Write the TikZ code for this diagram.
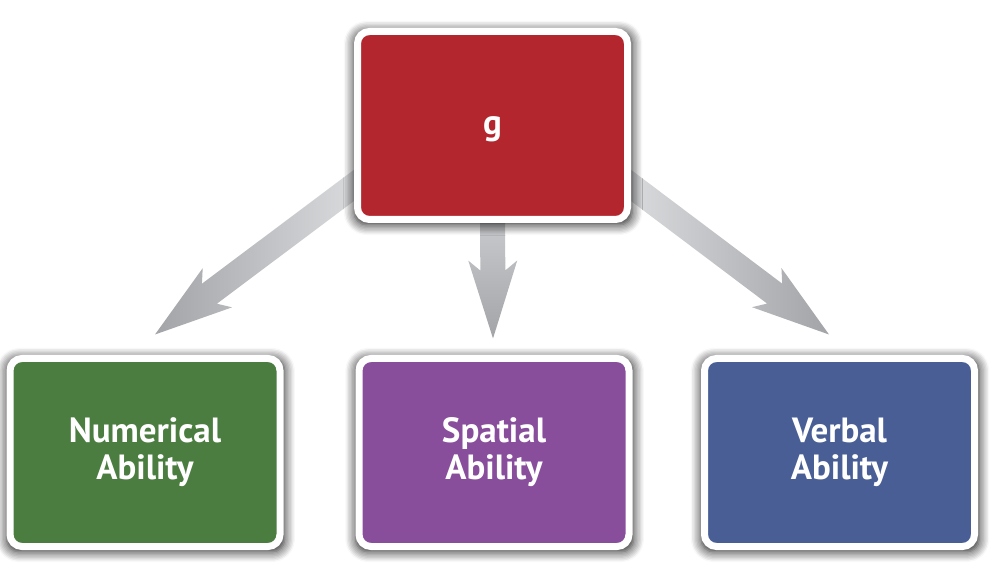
\documentclass[tikz,border=0pt]{standalone}
\usepackage{fontspec}
\setmainfont{PT Sans}
\usetikzlibrary{calc,shadows.blur}
\pgfdeclarelayer{bg}
\pgfsetlayers{bg,main}
\definecolor{gred}{HTML}{B3262E}
\definecolor{ngreen}{HTML}{4B7C40}
\definecolor{spurple}{HTML}{884E9B}
\definecolor{vblue}{HTML}{485E95}
\definecolor{arrlight}{HTML}{E2E3E5}
\definecolor{arrdark}{HTML}{A3A4A8}
\tikzset{
  abox/.style={draw=white, line width=3.5pt, rounded corners=6pt,
    minimum width=135pt, minimum height=94pt, inner sep=0pt,
    text=white, align=center,
    font=\fontsize{17.5pt}{18.5pt}\selectfont\bfseries,
    blur shadow={shadow xshift=0.3pt, shadow yshift=-1.2pt, shadow scale=1.03,
      shadow blur radius=5pt, shadow blur extra rounding=1.5pt,
      shadow opacity=90, shadow blur steps=8}},
  bigarrow/.style={draw=none}
}
% #1 tail, #2 tip, #3 shading options
\newcommand{\fatarrow}[3]{%
  \coordinate (aT1) at ($(#1)!6.25pt!90:(#2)$);
  \coordinate (aT2) at ($(#1)!6.25pt!-90:(#2)$);
  \coordinate (aN) at ($(#2)!34pt!(#1)$);
  \coordinate (aN1) at ($(aN)!6.25pt!90:(#2)$);
  \coordinate (aN2) at ($(aN)!6.25pt!-90:(#2)$);
  \coordinate (aB) at ($(#2)!39pt!(#1)$);
  \coordinate (aB1) at ($(aB)!12.25pt!90:(#2)$);
  \coordinate (aB2) at ($(aB)!12.25pt!-90:(#2)$);
  \shade[bigarrow,#3] (aT1) -- (aN1) -- (aB1) -- (#2) -- (aB2) -- (aN2) -- (aT2) -- cycle;
}
\begin{document}
\begin{tikzpicture}[x=0.5pt,y=-0.5pt]
\useasboundingbox (0,0) rectangle (990,566);
\node[abox, fill=gred, text height=8.6pt, text depth=0pt] (g) at (492.5,125.5) {g};
\node[abox, fill=ngreen] (num) at (145,452.5) {Numerical\\Ability};
\node[abox, fill=spurple] (spa) at (494,452.5) {Spatial\\Ability};
\node[abox, fill=vblue] (ver) at (839.5,452.5) {Verbal\\Ability};
\coordinate (tailL) at ($(g.center)+(-112,40)$);
\coordinate (tailM) at ($(g.center)+(0,55)$);
\coordinate (tailR) at ($(g.center)+(112,40)$);
\coordinate (tipL) at ($(num.north)+(10,-20.5)$);
\coordinate (tipM) at ($(spa.north)+(-1,-16.5)$);
\coordinate (tipR) at ($(ver.north)+(-10.5,-20.5)$);
\begin{pgfonlayer}{bg}
\fatarrow{tailL}{tipL}{left color=arrdark, right color=arrlight}
\fatarrow{tailM}{tipM}{top color=arrlight!80!arrdark, bottom color=arrdark}
\fatarrow{tailR}{tipR}{left color=arrlight, right color=arrdark}
\end{pgfonlayer}
\end{tikzpicture}
\end{document}
